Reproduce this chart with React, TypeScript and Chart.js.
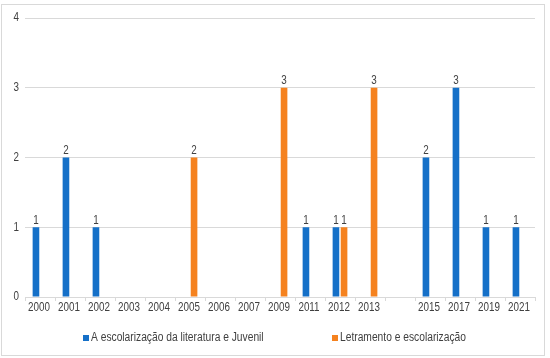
import React, { useEffect, useRef } from "react";
import { Chart, registerables } from "chart.js";

Chart.register(...registerables);

const categories = ["2000", "2001", "2002", "2003", "2004", "2005", "2006", "2007", "2009", "2011", "2012", "2013", "", "2015", "2017", "2019", "2021"];
const seriesA = [1, 2, 1, null, null, null, null, null, null, 1, 1, null, null, 2, 3, 1, 1];
const seriesB = [null, null, null, null, null, 2, null, null, 3, null, 1, 3, null, null, null, null, null];
const seriesNames = ["A escolarização da literatura e Juvenil", "Letramento e escolarização"];
const colors = ["#1570C8", "#F5821F"];
const yTicks = [0, 1, 2, 3, 4];

const FONT = "'Liberation Sans', Arial, sans-serif";
const SQUEEZE = 0.82;
const TEXT = "#404040";

function narrowText(ctx: any, text: string, x: number, y: number, align: string, baseline: string, size = 12) {
  ctx.save();
  ctx.translate(x, y);
  ctx.scale(SQUEEZE, 1);
  ctx.font = `${size}px ${FONT}`;
  ctx.fillStyle = TEXT;
  ctx.textAlign = align;
  ctx.textBaseline = baseline;
  ctx.fillText(text, 0, 0);
  ctx.restore();
}

const extrasPlugin = {
  id: "extras",
  afterDatasetsDraw(chart: any) {
    chart.data.datasets.forEach((ds: any, di: number) => {
      const meta = chart.getDatasetMeta(di);
      meta.data.forEach((bar: any, i: number) => {
        const v = ds.data[i];
        if (v === null || v === undefined) return;
        narrowText(chart.ctx, String(v), bar.x, bar.y - 1, "center", "bottom");
      });
    });
  },
  afterDraw(chart: any) {
    const ctx = chart.ctx;
    const xs = chart.scales.x;
    const ys = chart.scales.y;
    // x tick labels
    categories.forEach((c, i) => {
      if (!c) return;
      narrowText(ctx, c, xs.getPixelForTick(i) - 1, xs.top + 11, "center", "middle");
    });
    // y tick labels
    yTicks.forEach((v) => {
      narrowText(ctx, String(v), 19, ys.getPixelForValue(v), "right", "middle");
    });
    ctx.save();
    // outer border
    ctx.strokeStyle = "#d9d9d9";
    ctx.lineWidth = 1;
    ctx.strokeRect(1.5, 4.5, 543, 351);
    ctx.restore();
    // legend
    const y = 338;
    const lx = [83, 332];
    seriesNames.forEach((name, i) => {
      ctx.save();
      ctx.fillStyle = colors[i];
      ctx.fillRect(lx[i], y - 3, 6, 6);
      ctx.restore();
      narrowText(ctx, name, lx[i] + 8, y, "left", "middle", 12.5);
    });
  },
};

export default function App() {
  const ref = useRef<HTMLCanvasElement | null>(null);
  useEffect(() => {
    document.body.style.margin = "0";
    if (!ref.current) return;
    const chart = new Chart(ref.current, {
      type: "bar",
      data: {
        labels: categories,
        datasets: [
          { label: seriesNames[0], data: seriesA, backgroundColor: colors[0], categoryPercentage: 0.54, barPercentage: 0.82 },
          { label: seriesNames[1], data: seriesB, backgroundColor: colors[1], categoryPercentage: 0.54, barPercentage: 0.82 },
        ],
      },
      options: {
        animation: false,
        responsive: false,
        maintainAspectRatio: false,
        layout: { padding: { top: 18, right: 15, left: 0, bottom: 0 } },
        plugins: { legend: { display: false }, tooltip: { enabled: false } },
        scales: {
          x: {
            grid: { display: true, drawOnChartArea: false, color: "#d9d9d9", tickLength: 4 },
            border: { display: true, color: "#d9d9d9" },
            ticks: { display: false },
            afterFit: (s: any) => { s.height = 61; },
          },
          y: {
            min: 0,
            max: 4,
            afterBuildTicks: (s: any) => { s.ticks = yTicks.map((v) => ({ value: v })); },
            grid: { color: "#d9d9d9", drawTicks: false },
            border: { display: false },
            ticks: { display: false },
            afterFit: (s: any) => { s.width = 25; },
          },
        },
      },
      plugins: [extrasPlugin],
    });
    return () => chart.destroy();
  }, []);
  return <canvas ref={ref} width={550} height={358} style={{ display: "block" }} />;
}
